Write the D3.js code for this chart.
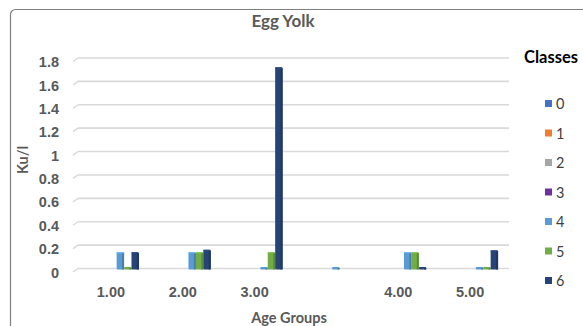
<!DOCTYPE html>
<html><head><meta charset="utf-8">
<script src="https://cdn.jsdelivr.net/npm/d3@7"></script>
<style>body{margin:0;background:#fff;}svg{display:block;font-family:Lato,"Open Sans",sans-serif;}</style>
</head><body><svg id="c" width="583" height="326"></svg>
<script>
const categories = ["1.00","2.00","3.00","","4.00","5.00"];
const seriesNames = ["0","1","2","3","4","5","6"];
const s0 = [null,null,null,null,null,null];
const s1 = [null,null,null,null,null,null];
const s2 = [null,null,null,null,null,null];
const s3 = [null,null,null,null,null,null];
const s4 = [0.14,0.14,0,0,0.14,0];
const s5 = [0,0.14,0.14,null,0.14,0];
const s6 = [0.14,0.16,1.72,null,0,0.155];
const yTicks = [0,0.2,0.4,0.6,0.8,1,1.2,1.4,1.6,1.8];
const colors = ["#4472C4","#ED7D31","#A5A5A5","#7030A0","#5B9BD5","#70AD47","#264478"];
const series = [s0,s1,s2,s3,s4,s5,s6];

const svg = d3.select("#c");
svg.append("rect").attr("x",10.5).attr("y",9.5).attr("width",640).attr("height",400).attr("rx",5)
  .attr("fill","#fff").attr("stroke","#7f7f7f").attr("stroke-width",1.2);

const x = d3.scaleBand().domain(d3.range(categories.length)).range([78,509]);
const y = d3.scaleLinear().domain([0,1.8]).range([268.5,58]);
const xs = d3.scaleBand().domain(d3.range(series.length)).range([0,52]);
const off = (x.bandwidth()-52)/2;

// gridlines
const g = svg.append("g");
yTicks.forEach(t=>{
  g.append("line").attr("x1",78).attr("x2",509).attr("y1",y(t)).attr("y2",y(t))
    .attr("stroke","#d9d9d9").attr("stroke-width",1.6);
  g.append("line").attr("x1",73).attr("x2",78).attr("y1",y(t)+3.5).attr("y2",y(t))
    .attr("stroke","#d9d9d9").attr("stroke-width",1.4);
});
// y axis labels
const yAxis = d3.axisLeft(y).tickValues(yTicks).tickSize(0).tickPadding(0).tickFormat(d=>d3.format("")(d));
const ya = svg.append("g").attr("transform","translate(59,4)").call(yAxis);
ya.select(".domain").remove();
ya.selectAll("text").attr("fill","#595959").attr("font-size",14.5).attr("font-weight","bold");

// x axis labels
const xAxis = d3.axisBottom(x).tickSize(0).tickPadding(0).tickFormat(i=>categories[i]);
const xa = svg.append("g").attr("transform","translate(-3,287)").call(xAxis);
xa.select(".domain").remove();
xa.selectAll("text").attr("fill","#595959").attr("font-size",14.5).attr("font-weight","bold");

// bars
series.forEach((s,si)=>{
  s.forEach((v,ci)=>{
    if(v===null) return;
    const bx = x(ci)+off+xs(si)-1;
    const bw = xs.bandwidth();
    const top = Math.min(y(v), y(0)-1.5);
    const h = y(0)-top+1;
    const c = d3.color(colors[si]);
    svg.append("rect").attr("x",bx).attr("y",top).attr("width",bw).attr("height",h)
      .attr("fill",colors[si]).attr("rx",1);
    svg.append("rect").attr("x",bx+bw-2).attr("y",top+1).attr("width",2).attr("height",Math.max(h-1,0.5))
      .attr("fill",c.darker(0.6).formatHex());
    if(v>0) svg.append("rect").attr("x",bx).attr("y",top).attr("width",bw-1).attr("height",1.2)
      .attr("fill",c.brighter(0.4).formatHex());
  });
});

// titles
svg.append("text").attr("x",283).attr("y",27).attr("text-anchor","middle").attr("font-size",17)
  .attr("font-weight","bold").attr("fill","#595959").text("Egg Yolk");
svg.append("text").attr("transform","translate(28,160) rotate(-90)").attr("text-anchor","middle")
  .attr("font-size",14.5).attr("font-weight","bold").attr("fill","#595959").text("Ku/l");
svg.append("text").attr("x",289).attr("y",323).attr("text-anchor","middle").attr("font-size",14.5)
  .attr("font-weight","bold").attr("fill","#595959").text("Age Groups");

// legend
svg.append("text").attr("x",524).attr("y",63).attr("font-size",16.5).attr("font-weight","bold")
  .attr("fill","#000").text("Classes");
seriesNames.forEach((n,i)=>{
  const ly = 104 + i*29.5;
  svg.append("rect").attr("x",545).attr("y",ly-4).attr("width",7).attr("height",7).attr("fill",colors[i]);
  svg.append("text").attr("x",556).attr("y",ly+5).attr("font-size",14.5).attr("fill","#404040").text(n);
});
</script></body></html>
